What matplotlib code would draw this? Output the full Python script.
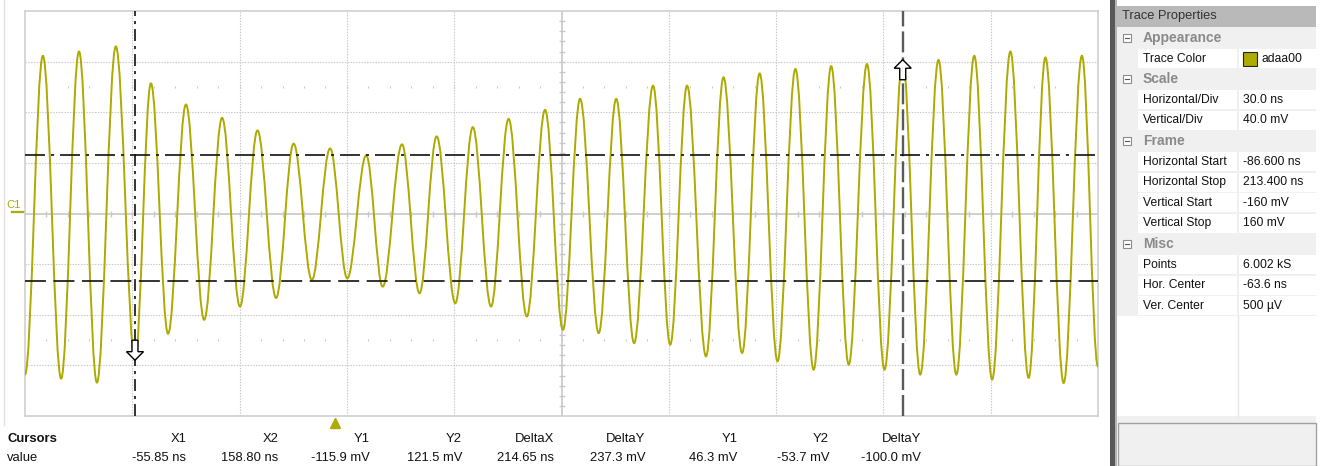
import matplotlib
matplotlib.use("Agg")
import matplotlib.pyplot as plt
import matplotlib.transforms as mtransforms
from matplotlib.patches import Polygon, Rectangle, PathPatch
from matplotlib.path import Path
import numpy as np

plt.rcParams['font.family'] = ['Liberation Sans', 'DejaVu Sans']
plt.rcParams['lines.scale_dashes'] = False

W, H = 1325, 466
TRACE_COLOR = "#adaa00"
GRID_COLOR = "#c8c8c8"

# scope frame
h_start, h_div, n_hdiv = -86.6, 30.0, 10
v_start, v_div, n_vdiv = -160.0, 40.0, 8
trigger_t = 0.0

# trace extrema (ns, mV), troughs include the first and last sample
trough_t = [-86.6, -76.5, -66.5, -55.85, -46.6, -36.5, -26.5, -16.4, -6.4, 3.5,
            13.4, 23.7, 33.7, 43.7, 53.7, 63.8, 73.8, 83.7, 93.8, 103.8,
            113.9, 123.8, 133.9, 143.7, 153.7, 163.7, 173.8, 183.8, 194.0, 203.8,
            213.4]
trough_v = [-127.3, -130.5, -133.6, -115.9, -95.0, -84.0, -73.5, -66.7, -52.5, -51.2,
            -57.8, -63.0, -70.9, -73.5, -81.4, -91.9, -94.5, -102.4, -103.7, -112.9,
            -110.2, -116.8, -123.4, -119.4, -123.4, -127.3, -127.3, -131.2, -129.9, -133.9,
            -121.0]
peak_t = [-81.6, -71.5, -61.2, -51.4, -41.6, -31.5, -21.6, -11.5, -1.3, 8.8,
          18.8, 28.5, 38.6, 48.6, 58.8, 68.6, 78.7, 89.0, 98.5, 108.7,
          118.8, 128.8, 138.8, 148.8, 158.8, 168.8, 178.8, 188.9, 198.7, 208.9]
peak_v = [124.6, 128.0, 132.0, 102.8, 86.1, 75.6, 65.6, 55.2, 51.4, 45.9,
          54.6, 60.9, 68.2, 74.8, 81.9, 90.6, 90.6, 101.0, 101.0, 107.6,
          110.7, 114.2, 116.4, 118.1, 121.5, 121.3, 124.6, 128.0, 123.3, 124.6]

# cursors
x1, x2 = -55.85, 158.80
x1_val, x2_val = -115.9, 121.5
y1, y2 = 46.3, -53.7

cursor_headers = ["X1", "X2", "Y1", "Y2", "DeltaX", "DeltaY", "Y1", "Y2", "DeltaY"]
cursor_values = ["-55.85 ns", "158.80 ns", "-115.9 mV", "121.5 mV", "214.65 ns",
                 "237.3 mV", "46.3 mV", "-53.7 mV", "-100.0 mV"]

# property grid: (label, value); value None marks a section row
panel_rows = [
    ("Appearance", None),
    ("Trace Color", "adaa00"),
    ("Scale", None),
    ("Horizontal/Div", "30.0 ns"),
    ("Vertical/Div", "40.0 mV"),
    ("Frame", None),
    ("Horizontal Start", "-86.600 ns"),
    ("Horizontal Stop", "213.400 ns"),
    ("Vertical Start", "-160 mV"),
    ("Vertical Stop", "160 mV"),
    ("Misc", None),
    ("Points", "6.002 kS"),
    ("Hor. Center", "-63.6 ns"),
    ("Ver. Center", "500 µV"),
]

fig = plt.figure(figsize=(W / 100, H / 100), dpi=100)
fig.patch.set_facecolor("white")

# pixel layer for the window chrome
ui = fig.add_axes([0, 0, 1, 1])
ui.set_xlim(0, W)
ui.set_ylim(H, 0)
ui.axis("off")
ui.set_zorder(1)

ui.plot([4, 4], [0, 425], color="#e2e2e2", lw=1)

# scope screen
L, T, R, B = 25, 11, 1098, 416
ax = fig.add_axes([L / W, 1 - B / H, (R - L) / W, (B - T) / H])
ax.set_zorder(2)
h_stop = h_start + n_hdiv * h_div
v_stop = v_start + n_vdiv * v_div
ax.set_xlim(h_start, h_stop)
ax.set_ylim(v_start, v_stop)
ax.set_xticks([])
ax.set_yticks([])
for sp in ax.spines.values():
    sp.set_color("#cfcfcf")
    sp.set_linewidth(1.2)

h_mid = h_start + n_hdiv / 2 * h_div
v_mid = v_start + n_vdiv / 2 * v_div
for k in range(1, n_hdiv):
    if k != n_hdiv // 2:
        ax.axvline(h_start + k * h_div, color=GRID_COLOR, lw=0.8, ls=(0, (1, 1)))
for k in range(1, n_vdiv):
    if k != n_vdiv // 2:
        ax.axhline(v_start + k * v_div, color=GRID_COLOR, lw=0.8, ls=(0, (1, 1)))
ax.axvline(h_mid, color=GRID_COLOR, lw=1.2)
ax.axhline(v_mid, color=GRID_COLOR, lw=1.2)

# minor ticks, five per division
hx = h_start + np.arange(1, n_hdiv * 5) * h_div / 5
vy = v_start + np.arange(1, n_vdiv * 5) * v_div / 5
ax.plot(hx, np.full(len(hx), v_mid), ls="none", marker="|", ms=5, mew=1, color=GRID_COLOR)
ax.plot(np.full(len(vy), h_mid), vy, ls="none", marker="_", ms=5, mew=1, color=GRID_COLOR)
for row in (v_mid + 2.5 * v_div, v_mid - 2.5 * v_div):
    ax.plot(hx, np.full(len(hx), row), ls="none", marker="|", ms=2, mew=0.8, color=GRID_COLOR)

# trace: extrema joined by smooth half-wave curves
t = np.empty(len(trough_t) + len(peak_t))
v = np.empty_like(t)
t[0::2], t[1::2] = trough_t, peak_t
v[0::2], v[1::2] = trough_v, peak_v
k = 0.364
verts = [(t[0], v[0])]
codes = [Path.MOVETO]
for i in range(1, len(t)):
    dt = t[i] - t[i - 1]
    verts += [(t[i - 1] + k * dt, v[i - 1]), (t[i] - k * dt, v[i]), (t[i], v[i])]
    codes += [Path.CURVE4] * 3
ax.add_patch(PathPatch(Path(verts, codes), fill=False, edgecolor=TRACE_COLOR,
                       lw=1.4, zorder=3))

# cursor lines
ax.axvline(x1, color="#111111", lw=1.2, dashes=(8.6, 3.6, 2.2, 3.6), zorder=4)
ax.axvline(x2, color="#5a5a5a", lw=1.7, dashes=(15.1, 3.6), zorder=4)
ax.axhline(y1, color="#111111", lw=1.2, dashes=(14.4, 4.3, 2.2, 4.3), zorder=4)
ax.axhline(y2, color="#111111", lw=1.2, dashes=(15.1, 5.4), zorder=4)


def cursor_arrow(x, y, up):
    s = 1 if up else -1
    px = [(0, 0), (8.5, -8.5), (3, -8.5), (3, -20), (-3, -20), (-3, -8.5), (-8.5, -8.5)]
    pts = [(a / 100, s * b / 100) for a, b in px]
    trans = fig.dpi_scale_trans + mtransforms.ScaledTranslation(x, y, ax.transData)
    ax.add_patch(Polygon(pts, closed=True, facecolor="white", edgecolor="black",
                         lw=1, transform=trans, zorder=6, clip_on=False))


cursor_arrow(x1, x1_val, up=False)
cursor_arrow(x2, x2_val, up=True)

# channel marker and trigger position
ui.text(6, 208, "C1", color=TRACE_COLOR, fontsize=8, va="baseline")
ui.plot([12, 25], [212, 212], color=TRACE_COLOR, lw=1.6)
trig = mtransforms.blended_transform_factory(ax.transData, ax.transAxes)
ax.plot([trigger_t], [-0.017], marker="^", ms=6.5, color=TRACE_COLOR,
        transform=trig, clip_on=False)

# cursor readout
ui.text(7, 439, "Cursors", fontsize=9.4, fontweight="bold", va="center", color="#111111")
ui.text(7, 458, "value", fontsize=9.4, va="center", color="#111111")
for i, (hd, val) in enumerate(zip(cursor_headers, cursor_values)):
    xr = 186.5 + 91.8 * i
    ui.text(xr, 439, hd, fontsize=9.4, ha="right", va="center", color="#111111")
    ui.text(xr, 458, val, fontsize=9.4, ha="right", va="center", color="#111111")

# trace properties panel
ui.add_patch(Rectangle((1110, 0), 5, H, fc="#585858", ec="none"))
ui.add_patch(Rectangle((1115, 0), 2, H, fc="#b4b4b4", ec="none"))
ui.add_patch(Rectangle((1117, 27), 199, 390, fc="#f0f0f0", ec="none"))
ui.add_patch(Rectangle((1117, 6), 199, 21, fc="#b9b9b9", ec="none"))
ui.text(1122, 16.5, "Trace Properties", fontsize=9.3, va="center", color="#333333")

pitch = 20.6
y0 = 38
for i, (name, val) in enumerate(panel_rows):
    yc = y0 + pitch * i
    if val is None:
        ui.add_patch(Rectangle((1123, yc - 4), 8, 8, fc="white", ec="#8c8c8c", lw=0.8))
        ui.plot([1125, 1129], [yc, yc], color="#555555", lw=0.8)
        ui.text(1143, yc, name, fontsize=10, fontweight="bold", va="center", color="#8a8a8a")
    else:
        ui.add_patch(Rectangle((1138, yc - 9.5), 98.5, 19, fc="white", ec="none"))
        ui.add_patch(Rectangle((1239, yc - 9.5), 77, 19, fc="white", ec="none"))
        ui.text(1143, yc, name, fontsize=8.7, va="center", color="#111111")
        if name == "Trace Color":
            ui.add_patch(Rectangle((1243, yc - 7), 14, 14, fc=TRACE_COLOR, ec="#222222", lw=0.8))
            ui.text(1262, yc, val, fontsize=8.7, va="center", color="#111111")
        else:
            ui.text(1243, yc, val, fontsize=8.7, va="center", color="#111111")

# empty grid area below the rows and the help box
rows_end = y0 + pitch * (len(panel_rows) - 0.5)
ui.add_patch(Rectangle((1117, rows_end), 199, 416 - rows_end, fc="white", ec="none"))
ui.plot([1237.5, 1237.5], [rows_end, 416], color="#e6e6e6", lw=1)
ui.add_patch(Rectangle((1117, 416), 199, 7, fc="#f0f0f0", ec="none"))
ui.add_patch(Rectangle((1118, 423), 198, 43, fc="#f0f0f0", ec="#a0a0a0", lw=1))

fig.savefig("out.png", dpi=100)
